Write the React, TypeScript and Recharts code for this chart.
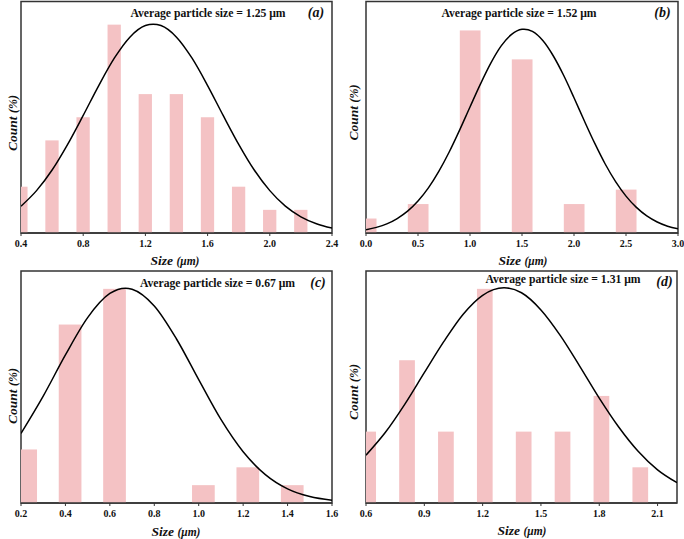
import React from "react";
import { Bar, ComposedChart, Line, ReferenceArea, XAxis, YAxis } from "recharts";

const FONT = "'Liberation Serif', 'Times New Roman', serif";
const BAR_COLOR = "#f4c2c4";
const FRAME = "#333333";

// panel (a)
const A_BAR_X = [0.4, 0.6, 0.8, 1.0, 1.2, 1.4, 1.6, 1.8, 2.0, 2.2];
const A_COUNTS = [2, 4, 5, 9, 6, 6, 5, 2, 1, 1];
const A_FIT_X = [0.4, 0.5, 0.6, 0.7, 0.8, 0.9, 1.0, 1.1, 1.2, 1.25, 1.3, 1.4, 1.5, 1.6, 1.7, 1.8, 1.9, 2.0, 2.1, 2.2, 2.3, 2.4];
const A_FIT = [1.16, 1.83, 2.72, 3.83, 5.08, 6.37, 7.55, 8.46, 8.96, 9.02, 8.96, 8.46, 7.55, 6.37, 5.08, 3.83, 2.72, 1.83, 1.16, 0.7, 0.4, 0.21];
const A_TICKS = [0.4, 0.8, 1.2, 1.6, 2.0, 2.4];

// panel (b)
const B_BAR_X = [0.0, 0.5, 1.0, 1.5, 2.0, 2.5];
const B_COUNTS = [1, 2, 14, 12, 2, 3];
const B_FIT_X = [0.0, 0.1, 0.2, 0.3, 0.4, 0.5, 0.6, 0.7, 0.8, 0.9, 1.0, 1.1, 1.2, 1.3, 1.4, 1.5, 1.52, 1.6, 1.7, 1.8, 1.9, 2.0, 2.1, 2.2, 2.3, 2.4, 2.5, 2.6, 2.7, 2.8, 2.9, 3.0];
const B_FIT = [0.23, 0.39, 0.63, 1.0, 1.51, 2.21, 3.12, 4.26, 5.6, 7.11, 8.71, 10.29, 11.74, 12.93, 13.73, 14.08, 14.09, 13.93, 13.3, 12.25, 10.9, 9.35, 7.74, 6.19, 4.77, 3.55, 2.55, 1.77, 1.18, 0.76, 0.47, 0.29];
const B_TICKS = [0.0, 0.5, 1.0, 1.5, 2.0, 2.5, 3.0];

// panel (c)
const C_BAR_X = [0.22, 0.42, 0.62, 1.02, 1.22, 1.42];
const C_COUNTS = [3, 10, 12, 1, 2, 1];
const C_FIT_X = [0.2, 0.3, 0.4, 0.5, 0.6, 0.67, 0.7, 0.8, 0.9, 1.0, 1.1, 1.2, 1.3, 1.4, 1.5, 1.6];
const C_FIT = [3.9, 5.99, 8.3, 10.39, 11.74, 12.04, 11.98, 11.04, 9.19, 6.91, 4.68, 2.87, 1.59, 0.79, 0.36, 0.15];
const C_TICKS = [0.2, 0.4, 0.6, 0.8, 1.0, 1.2, 1.4, 1.6];

// panel (d)
const D_BAR_X = [0.61, 0.81, 1.01, 1.21, 1.41, 1.61, 1.81, 2.01];
const D_COUNTS = [2, 4, 2, 6, 2, 2, 3, 1];
const D_FIT_X = [0.6, 0.7, 0.8, 0.9, 1.0, 1.1, 1.2, 1.31, 1.4, 1.5, 1.6, 1.7, 1.8, 1.9, 2.0, 2.1, 2.2];
const D_FIT = [1.34, 1.98, 2.77, 3.65, 4.52, 5.29, 5.82, 6.03, 5.89, 5.41, 4.69, 3.83, 2.94, 2.13, 1.45, 0.93, 0.57];
const D_TICKS = [0.6, 0.9, 1.2, 1.5, 1.8, 2.1];

const TITLES = [
  "Average particle size = 1.25 μm",
  "Average particle size = 1.52 μm",
  "Average particle size = 0.67 μm",
  "Average particle size = 1.31 μm",
];
const LETTERS = ["(a)", "(b)", "(c)", "(d)"];

const barShape = (w: number) => (props: any) => {
  const { x, y, width, height } = props;
  if (!(height > 0)) return null;
  const cx = x + width / 2;
  return <rect x={cx - w / 2} y={y} width={w} height={height} fill={BAR_COLOR} />;
};

function Panel({ left, top, height, margin, barX, counts, fitX, fit, domain, ticks, yMax, barWidth }: any) {
  const rows = [
    ...barX.map((x: number, i: number) => ({ x, count: counts[i] })),
    ...fitX.map((x: number, i: number) => ({ x, fit: fit[i] })),
  ].sort((a, b) => a.x - b.x);

  return (
    <div style={{ position: "absolute", left, top }}>
      <ComposedChart width={342} height={height} data={rows} margin={margin}>
        <XAxis
          dataKey="x"
          type="number"
          domain={domain}
          ticks={ticks}
          interval={0}
          allowDataOverflow
          tickFormatter={(v: number) => v.toFixed(1)}
          tick={{ fontFamily: FONT, fontWeight: 700, fontSize: 10, fill: "#111" }}
          tickSize={3}
          tickMargin={4}
          height={30}
          axisLine={{ stroke: FRAME, strokeWidth: 1.5 }}
          tickLine={{ stroke: FRAME, strokeWidth: 1 }}
        />
        <YAxis type="number" domain={[0, yMax]} allowDataOverflow hide />
        <Bar dataKey="count" shape={barShape(barWidth)} isAnimationActive={false} />
        <Line dataKey="fit" type="monotone" stroke="#000" strokeWidth={1.5} dot={false} connectNulls isAnimationActive={false} />
        <ReferenceArea x1={domain[0]} x2={domain[1]} y1={0} y2={yMax} fill="none" fillOpacity={0} stroke={FRAME} strokeWidth={1.5} ifOverflow="visible" />
      </ComposedChart>
    </div>
  );
}

function Texts() {
  const title = { fontFamily: FONT, fontWeight: 700, fontSize: 11.7, fill: "#111" } as const;
  const letter = { fontFamily: FONT, fontWeight: 700, fontStyle: "italic", fontSize: 14, fill: "#111" } as const;
  const axis = { fontFamily: FONT, fontWeight: 700, fontStyle: "italic", fill: "#111" } as const;
  const titlePos = [[208, 16.7], [519, 16.7], [217.5, 286.5], [563, 283.3]];
  const letterPos = [[316, 17], [662.5, 17], [318, 287], [664.5, 286]];
  const sizePos = [[175, 265], [523, 265], [176, 536], [522, 535]];
  const countPos = [[17, 123], [358, 112.5], [17, 396], [358, 392]];
  return (
    <svg width={684} height={539} style={{ position: "absolute", left: 0, top: 0, pointerEvents: "none" }}>
      {TITLES.map((t, i) => (
        <text key={"t" + i} x={titlePos[i][0]} y={titlePos[i][1]} textAnchor="middle" style={title}>{t}</text>
      ))}
      {LETTERS.map((t, i) => (
        <text key={"l" + i} x={letterPos[i][0]} y={letterPos[i][1]} textAnchor="middle" style={letter}>{t}</text>
      ))}
      {sizePos.map((p, i) => (
        <text key={"s" + i} x={p[0]} y={p[1]} textAnchor="middle" style={axis}>
          <tspan fontSize={13.5}>Size </tspan>
          <tspan fontSize={11.5}>{"(μm)"}</tspan>
        </text>
      ))}
      {countPos.map((p, i) => (
        <text key={"c" + i} x={p[0]} y={p[1]} textAnchor="middle" transform={`rotate(-90 ${p[0]} ${p[1]})`} style={axis}>
          <tspan fontSize={13.5}>Count </tspan>
          <tspan fontSize={12}>(%)</tspan>
        </text>
      ))}
    </svg>
  );
}

export default function App() {
  return (
    <div style={{ position: "absolute", left: 0, top: 0, width: 684, height: 539, background: "#fff" }}>
      <Panel left={0} top={0} height={270} margin={{ top: 1.5, right: 10, left: 21, bottom: 7 }}
        barX={A_BAR_X} counts={A_COUNTS} fitX={A_FIT_X} fit={A_FIT} domain={[0.4, 2.4]} ticks={A_TICKS} yMax={10} barWidth={13.3} />
      <Panel left={342} top={0} height={270} margin={{ top: 1.5, right: 6, left: 24, bottom: 7 }}
        barX={B_BAR_X} counts={B_COUNTS} fitX={B_FIT_X} fit={B_FIT} domain={[0, 3]} ticks={B_TICKS} yMax={16} barWidth={20.7} />
      <Panel left={0} top={270} height={269} margin={{ top: 1, right: 10, left: 21, bottom: 6 }}
        barX={C_BAR_X} counts={C_COUNTS} fitX={C_FIT_X} fit={C_FIT} domain={[0.2, 1.6]} ticks={C_TICKS} yMax={13} barWidth={22.7} />
      <Panel left={342} top={270} height={269} margin={{ top: 1, right: 7, left: 24, bottom: 6 }}
        barX={D_BAR_X} counts={D_COUNTS} fitX={D_FIT_X} fit={D_FIT} domain={[0.6, 2.2]} ticks={D_TICKS} yMax={6.5} barWidth={15.7} />
      <Texts />
    </div>
  );
}
